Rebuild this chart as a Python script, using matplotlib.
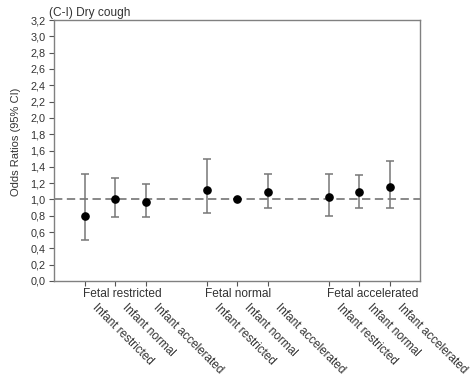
import matplotlib

matplotlib.use("Agg")
import matplotlib.pyplot as plt
import matplotlib.transforms as mtransforms

plt.rcParams["font.family"] = ["Liberation Sans", "DejaVu Sans"]

# Data (odds ratios with 95% CI)
positions = [1, 2, 3, 5, 6, 7, 9, 10, 11]
odds = [0.80, 1.00, 0.97, 1.115, 1.00, 1.09, 1.03, 1.09, 1.15]
ci_low = [0.50, 0.79, 0.78, 0.83, 1.00, 0.90, 0.80, 0.90, 0.89]
ci_high = [1.31, 1.26, 1.19, 1.49, 1.00, 1.31, 1.315, 1.30, 1.47]
infant_labels = ["Infant restricted", "Infant normal", "Infant accelerated"] * 3
fetal_labels = ["Fetal restricted", "Fetal normal", "Fetal accelerated"]
fetal_pos = [1, 5, 9]  # group label starts at the first tick of the group
y_ticks = [round(0.2 * i, 1) for i in range(17)]

text_color = "#333333"

fig = plt.figure(figsize=(4.7, 3.82), dpi=100)
ax = fig.add_axes([0.115, 0.2644, 0.779, 0.6832])

err = [[o - l for o, l in zip(odds, ci_low)], [h - o for o, h in zip(odds, ci_high)]]
ax.axhline(1.0, color="#888888", lw=1.4, ls=(0, (4.3, 2.3)), zorder=1)
ax.errorbar(positions, odds, yerr=err, fmt="o", color="black", ms=5.2,
            ecolor="#777777", elinewidth=1.1, capsize=3, capthick=1.1, zorder=3)

ax.set_xlim(0, 12)
ax.set_ylim(0, 3.2)
ax.set_yticks(y_ticks)
ax.set_yticklabels([f"{t:.1f}".replace(".", ",") for t in y_ticks], fontsize=7.8, color=text_color)
ax.set_xticks(positions)
ax.set_xticklabels([])
ax.tick_params(axis="both", direction="out", length=3.5, width=0.8, color="#555555", pad=2.5)
for side in ["left", "bottom", "top", "right"]:
    ax.spines[side].set_color("#808080")
    ax.spines[side].set_linewidth(1.0)

trans = mtransforms.blended_transform_factory(ax.transData, ax.transAxes)
for p, lab in zip(fetal_pos, fetal_labels):
    ax.text(p - 0.05, -0.027, lab, transform=trans, ha="left", va="top", fontsize=8.6, color=text_color)
for p, lab in zip(positions, infant_labels):
    ax.text(p + 0.45, -0.078, lab, transform=trans, ha="left", va="top", rotation=-45,
            rotation_mode="anchor", fontsize=8.5, color=text_color)

fig.text(16 / 470, 1 - 142 / 382, "Odds Ratios (95% CI)", rotation=90, ha="center", va="center",
         fontsize=8, color=text_color)
fig.text(49 / 470, 1 - 13 / 382, "(C-I) Dry cough", fontsize=8.6, color=text_color,
         ha="left", va="center")

fig.savefig("out.png", dpi=100)
